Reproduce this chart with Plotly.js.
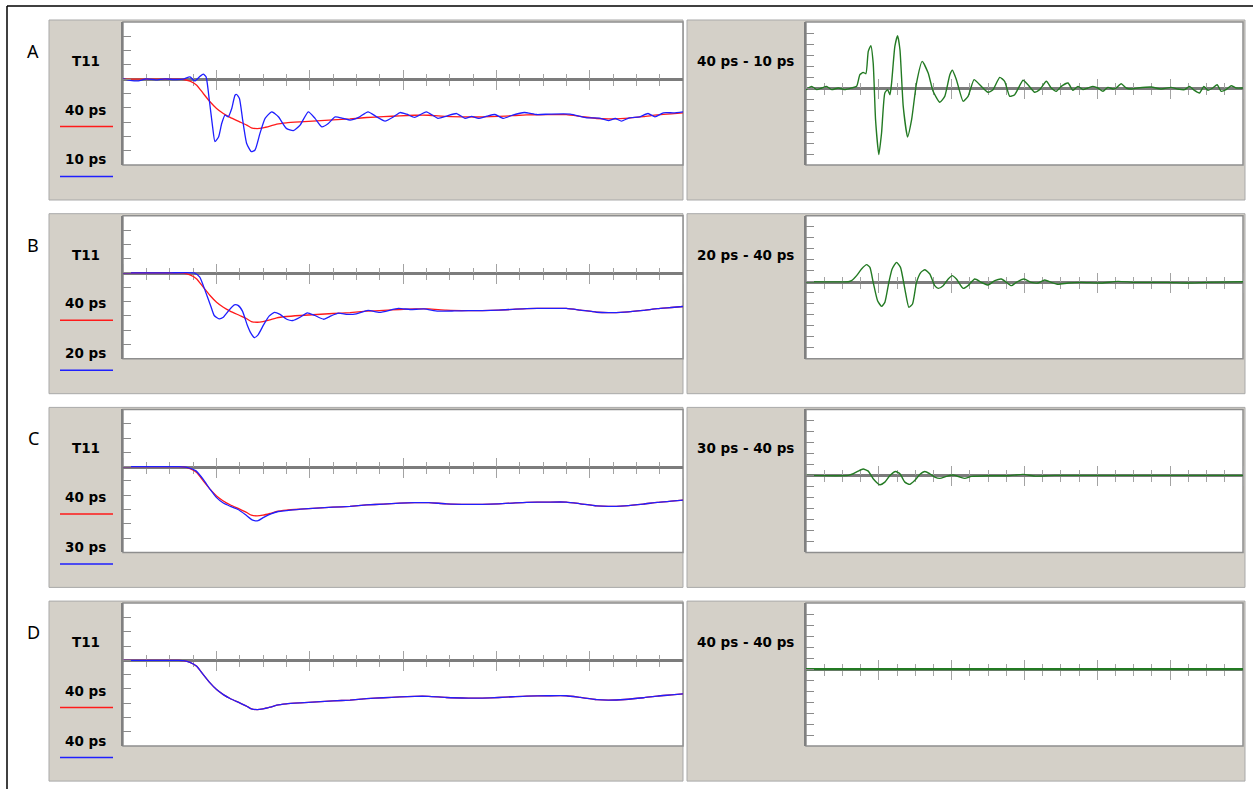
<!DOCTYPE html>
<html><head><meta charset="utf-8">
<script src="https://cdn.plot.ly/plotly-3.0.1.min.js"></script>
<style>html,body{margin:0;padding:0;background:#fff;}#chart{width:1253px;height:789px;}</style>
</head><body><div id="chart"></div>
<script>
// ---------- data (x in minor divisions 0..24, y in tick units) ----------
const rowLetters = ['A', 'B', 'C', 'D'];
const leftTitle = 'T11';
const coarseLabel = '40 ps';
const fineLabels = ['10 ps', '20 ps', '30 ps', '40 ps'];
const diffLabels = ['40 ps - 10 ps', '20 ps - 40 ps', '30 ps - 40 ps', '40 ps - 40 ps'];

// 40 ps rise time response (red)
const t40 = [0, 1, 2, 2.4, 2.6, 2.87, 3.16, 3.44, 3.73, 4.01, 4.3, 4.59, 5.0, 5.3, 5.5, 5.75, 6.0, 6.3, 6.59, 7.0, 7.6, 8.3, 9.0, 9.73, 10.44, 11.16, 11.87, 12.5, 13.1, 13.85, 14.8, 15.4, 16.1, 16.7, 17.3, 18.2, 19.0, 19.6, 20.3, 20.8, 21.5, 22.3, 22.9, 23.5, 24];
const y40 = [0, 0, 0, 0, -0.02, -0.14, -0.42, -1.0, -1.58, -2.05, -2.4, -2.67, -2.98, -3.21, -3.4, -3.45, -3.4, -3.28, -3.14, -3.05, -2.98, -2.91, -2.84, -2.78, -2.68, -2.62, -2.56, -2.52, -2.52, -2.6, -2.64, -2.64, -2.6, -2.55, -2.5, -2.48, -2.48, -2.6, -2.75, -2.78, -2.74, -2.62, -2.5, -2.42, -2.35];

// 10 ps response (blue, row A)
const t10 = [0, 0.3, 0.66, 1.0, 1.4, 1.8, 2.2, 2.58, 2.87, 3.08, 3.3, 3.44, 3.56, 3.7, 3.84, 3.94, 4.1, 4.23, 4.37, 4.51, 4.66, 4.8, 4.87, 4.99, 5.13, 5.3, 5.5, 5.66, 5.87, 6.09, 6.37, 6.66, 7.0, 7.3, 7.59, 7.94, 8.23, 8.52, 8.8, 9.09, 9.44, 9.73, 10.1, 10.5, 10.87, 11.23, 11.6, 11.87, 12.16, 12.5, 13.0, 13.5, 13.87, 14.3, 14.66, 14.94, 15.23, 15.6, 15.94, 16.3, 16.7, 17.2, 17.73, 18.3, 19.16, 19.88, 20.4, 20.8, 21.1, 21.36, 21.7, 22.15, 22.5, 22.8, 23.16, 23.6, 24];
const y10 = [0.02, -0.08, -0.12, 0.02, -0.05, 0.02, -0.02, 0, 0.16, -0.12, 0.2, 0.35, 0.16, -1.47, -3.33, -4.37, -4.02, -3.1, -2.51, -2.63, -2.05, -1.12, -1.07, -1.35, -2.86, -4.49, -5.07, -4.95, -3.79, -2.74, -2.28, -2.63, -3.44, -3.6, -3.21, -2.28, -2.74, -3.33, -3.1, -2.63, -2.74, -2.86, -2.67, -2.28, -2.63, -2.93, -2.63, -2.33, -2.45, -2.67, -2.28, -2.74, -2.58, -2.4, -2.74, -2.6, -2.74, -2.58, -2.47, -2.74, -2.51, -2.33, -2.47, -2.44, -2.44, -2.7, -2.72, -2.89, -2.75, -2.93, -2.7, -2.63, -2.4, -2.63, -2.35, -2.35, -2.28];

// 20 ps response (blue, row B)
const t20 = [0, 1, 2, 3.05, 3.29, 3.52, 3.76, 3.91, 4.12, 4.3, 4.54, 4.77, 4.93, 5.12, 5.32, 5.48, 5.63, 5.79, 6.03, 6.26, 6.49, 6.73, 7.04, 7.28, 7.59, 7.9, 8.22, 8.6, 8.92, 9.23, 9.62, 10.0, 10.5, 11.0, 11.8, 12.3, 12.9, 13.5, 14.2, 14.8, 15.4, 16.1, 16.7, 17.3, 18.2, 19.0, 19.6, 20.3, 20.8, 21.5, 22.3, 22.9, 23.5, 24];
const y20 = [0, 0, 0, 0, -0.29, -1.24, -2.31, -2.98, -3.21, -3.1, -2.62, -2.24, -2.27, -2.67, -3.62, -4.21, -4.52, -4.33, -3.62, -3.02, -2.76, -2.9, -3.26, -3.33, -3.1, -2.79, -2.98, -3.24, -3.0, -2.81, -2.9, -2.86, -2.62, -2.76, -2.48, -2.56, -2.52, -2.67, -2.66, -2.64, -2.64, -2.6, -2.55, -2.5, -2.48, -2.48, -2.6, -2.75, -2.78, -2.74, -2.62, -2.5, -2.42, -2.35];

// 30 ps response (blue, row C)
const t30 = [0, 1, 1.96, 2.4, 2.74, 3.13, 3.44, 3.76, 4.0, 4.3, 4.6, 4.93, 5.24, 5.56, 5.79, 6.03, 6.34, 6.65, 7.0, 7.6, 8.3, 9.0, 9.73, 10.44, 11.16, 11.87, 12.5, 13.1, 13.85, 14.8, 15.4, 16.1, 16.7, 17.3, 18.2, 19.0, 19.6, 20.3, 20.8, 21.5, 22.3, 22.9, 23.5, 24];
const y30 = [0, 0, 0, 0, -0.05, -0.3, -0.9, -1.65, -2.15, -2.55, -2.78, -3.0, -3.35, -3.75, -3.78, -3.55, -3.3, -3.14, -3.08, -2.98, -2.91, -2.84, -2.78, -2.68, -2.62, -2.56, -2.52, -2.52, -2.6, -2.64, -2.64, -2.6, -2.55, -2.5, -2.48, -2.48, -2.6, -2.75, -2.78, -2.74, -2.62, -2.5, -2.42, -2.35];

// difference traces (green, right column)
const td10 = [0, 0.31, 0.585, 0.86, 1.13, 1.41, 1.77, 2.14, 2.5, 2.78, 2.96, 3.14, 3.29, 3.42, 3.56, 3.69, 3.82, 4.0, 4.15, 4.33, 4.48, 4.61, 4.70, 4.88, 5.03, 5.16, 5.34, 5.58, 5.80, 6.07, 6.38, 6.71, 6.98, 7.35, 7.62, 7.90, 8.04, 8.26, 8.63, 8.90, 9.23, 9.54, 10.0, 10.27, 10.64, 10.91, 11.19, 11.46, 11.92, 12.19, 12.56, 12.83, 13.2, 13.47, 13.75, 14.02, 14.39, 14.66, 14.94, 15.21, 15.48, 15.76, 16.03, 16.31, 16.58, 16.86, 17.04, 17.31, 17.59, 17.86, 18.23, 18.96, 19.51, 20.05, 20.42, 20.79, 21.06, 21.33, 21.61, 21.85, 22.07, 22.34, 22.58, 22.8, 23.07, 23.35, 23.62, 24];
const yd10 = [-0.15, 0.15, -0.15, 0, 0.15, -0.15, 0, -0.15, 0, 0.15, 1.21, 1.42, 1.3, 3.33, 3.85, 2.27, -2.88, -6.06, -4.09, -0.45, -0.15, -0.61, 0.45, 3.79, 4.76, 3.48, -1.67, -4.45, -2.88, 0.45, 2.42, 1.36, -0.3, -1.3, -0.76, 1.21, 1.61, 0.76, -1.21, -0.76, 0.76, 0.3, -0.39, -0.15, 0.97, 0.61, -0.76, -0.61, 0.7, 0.3, -0.39, -0.15, 0.61, 0, -0.3, 0.15, 0.45, -0.21, 0.15, -0.15, 0, 0.15, 0, -0.3, 0.06, -0.09, 0, 0.39, 0, -0.09, 0, 0.09, -0.09, 0.06, -0.09, -0.15, 0.15, -0.21, -0.45, 0.15, -0.21, 0, 0.3, -0.3, -0.15, 0.21, 0, 0];
const td20 = [0, 2.32, 2.5, 2.78, 3.05, 3.33, 3.51, 3.69, 3.93, 4.15, 4.33, 4.55, 4.73, 4.97, 5.19, 5.43, 5.65, 5.85, 6.07, 6.31, 6.53, 6.8, 7.07, 7.26, 7.53, 7.81, 8.03, 8.26, 8.63, 8.9, 9.27, 9.63, 10.0, 10.37, 10.73, 11.01, 11.28, 11.55, 11.97, 12.38, 12.74, 13.11, 13.47, 13.84, 14.39, 15.12, 16.22, 17.13, 18.04, 19.87, 20.97, 21.97, 24];
const yd20 = [0, 0, 0.09, 0.55, 1.15, 1.55, 1.3, -0.06, -1.73, -2.24, -1.88, -0.06, 1.15, 1.76, 1.3, -0.67, -2.33, -2.03, -0.06, 0.85, 1.09, 0.7, -0.36, -0.61, -0.36, 0.24, 0.55, 0.24, -0.61, -0.36, 0.24, -0.06, -0.3, 0.09, 0.24, -0.06, -0.36, -0.06, 0.24, -0.06, -0.12, 0.15, -0.06, -0.24, -0.12, -0.06, -0.12, 0.03, -0.06, -0.06, -0.12, -0.06, 0];
const td30 = [0, 2.32, 2.6, 2.87, 3.14, 3.42, 3.69, 4.06, 4.33, 4.61, 4.92, 5.16, 5.43, 5.7, 5.98, 6.25, 6.53, 6.8, 7.07, 7.35, 7.71, 8.08, 8.45, 8.72, 9.09, 10.0, 11.1, 11.92, 12.56, 13.66, 24];
const yd30 = [0, 0, 0.15, 0.39, 0.58, 0.39, -0.3, -0.85, -0.61, 0, 0.36, 0.15, -0.61, -0.82, -0.45, 0.09, 0.36, 0.15, -0.15, -0.27, -0.09, 0.03, -0.15, -0.27, -0.09, -0.03, -0.03, 0.09, -0.06, 0, 0];
const td40 = [0, 24];
const yd40 = [0, 0];

// ---------- layout geometry ----------
const W = 1253, H = 789;
const fx = p => p / W, fy = p => 1 - p / H;
const ROW = 193.7;
const LEFT = {box: [49, 683], plot: [123, 683], range: [-6, 4]};
const RIGHT = {box: [687, 1245], plot: [806, 1243], range: [-7, 6]};
const BOX_T = 20, BOX_B = 200, PLOT_T = 22, PLOT_B = 165;

const fineSeries = [[t10, y10], [t20, y20], [t30, y30], [t40, y40]];
const diffSeries = [[td10, yd10], [td20, yd20], [td30, yd30], [td40, yd40]];

const traces = [], shapes = [], annotations = [];
const layout = {
  width: W, height: H, margin: {l: 0, r: 0, t: 0, b: 0},
  paper_bgcolor: '#ffffff', plot_bgcolor: 'rgba(0,0,0,0)',
  showlegend: false, hovermode: false
};

const tickCol = '#a3a3a3';
function axName(n, letter) { return n === 1 ? letter : letter + n; }
function axKey(n, letter) { return (letter === 'x' ? 'xaxis' : 'yaxis') + (n === 1 ? '' : n); }

function addPanel(k, r, side, lines) {
  const xi = 2 * k + 1, xo = 2 * k + 2, yi = k + 1;
  const top = PLOT_T + r * ROW, bot = PLOT_B + r * ROW;
  const yr = side.range;
  const zeroPx = top + (bot - top) * yr[1] / (yr[1] - yr[0]);
  shapes.push({type: 'rect', xref: 'paper', yref: 'paper', layer: 'below',
    x0: fx(side.box[0]), x1: fx(side.box[1]), y0: fy(BOX_B + r * ROW), y1: fy(BOX_T + r * ROW),
    fillcolor: '#d4d0c8', line: {color: '#a9a9a9', width: 1}});
  shapes.push({type: 'rect', xref: 'paper', yref: 'paper', layer: 'below',
    x0: fx(side.plot[0]), x1: fx(side.plot[1]), y0: fy(bot), y1: fy(top),
    fillcolor: '#ffffff', line: {color: '#8e8e8e', width: 1.5}});
  const common = {range: [0, 24], anchor: 'free', position: fy(zeroPx),
    ticks: 'outside', tick0: 0, dtick: 4, ticklen: 9, tickwidth: 1, tickcolor: tickCol,
    minor: {ticks: 'outside', dtick: 1, tick0: 0, ticklen: 5, tickwidth: 1, tickcolor: tickCol, showgrid: false},
    showticklabels: false, showgrid: false, zeroline: false, fixedrange: true, layer: 'below traces'};
  layout[axKey(xi, 'x')] = Object.assign({}, common, {domain: [fx(side.plot[0]), fx(side.plot[1])],
    showline: true, linecolor: '#7c7c7c', linewidth: 3});
  layout[axKey(xo, 'x')] = Object.assign({}, common, {overlaying: axName(xi, 'x'), side: 'top', showline: false,
    minor: {ticks: 'outside', dtick: 1, tick0: 0, ticklen: 5, tickwidth: 1, tickcolor: tickCol, showgrid: false}});
  layout[axKey(yi, 'y')] = {domain: [fy(bot), fy(top)], range: yr, anchor: axName(xi, 'x'), side: 'left',
    showline: true, linecolor: '#808080', linewidth: 2, ticks: 'inside', tick0: 0, dtick: 1, ticklen: 8,
    tickwidth: 1, tickcolor: '#8a8a8a', showticklabels: false, showgrid: false, zeroline: false, fixedrange: true};
  lines.forEach(l => traces.push({type: 'scatter', mode: 'lines', x: l.x, y: l.y,
    xaxis: axName(xi, 'x'), yaxis: axName(yi, 'y'), hoverinfo: 'skip',
    line: {color: l.color, width: l.width, shape: 'spline', smoothing: 0.5}}));
  traces.push({type: 'scatter', mode: 'lines', x: [], y: [], xaxis: axName(xo, 'x'), yaxis: axName(yi, 'y'), hoverinfo: 'skip'});
}

for (let r = 0; r < 4; r++) {
  addPanel(r, r, LEFT, [
    {x: t40, y: y40, color: '#ff1a1a', width: 1.3},
    {x: fineSeries[r][0], y: fineSeries[r][1], color: '#1f1fff', width: 1.3}
  ]);
  addPanel(4 + r, r, RIGHT, [
    {x: diffSeries[r][0], y: diffSeries[r][1], color: '#237a23', width: r === 3 ? 2.2 : 1.4}
  ]);
  const dy = r * ROW;
  const lblFont = {family: 'DejaVu Sans, Verdana, sans-serif', size: 13.5, color: '#000000'};
  annotations.push({xref: 'paper', yref: 'paper', x: fx(33), y: fy(51 + dy), text: rowLetters[r], showarrow: false,
    xanchor: 'center', yanchor: 'middle', font: {family: 'Noto Sans, Open Sans, sans-serif', size: 18, color: '#000'}});
  annotations.push({xref: 'paper', yref: 'paper', x: fx(85.5), y: fy(61 + dy), text: '<b>' + leftTitle + '</b>', showarrow: false,
    xanchor: 'center', yanchor: 'middle', font: lblFont});
  annotations.push({xref: 'paper', yref: 'paper', x: fx(85.5), y: fy(109.5 + dy), text: '<b>' + coarseLabel + '</b>', showarrow: false,
    xanchor: 'center', yanchor: 'middle', font: lblFont});
  annotations.push({xref: 'paper', yref: 'paper', x: fx(85.5), y: fy(159.5 + dy), text: '<b>' + fineLabels[r] + '</b>', showarrow: false,
    xanchor: 'center', yanchor: 'middle', font: lblFont});
  annotations.push({xref: 'paper', yref: 'paper', x: fx(745.5), y: fy(61 + dy), text: '<b>' + diffLabels[r] + '</b>', showarrow: false,
    xanchor: 'center', yanchor: 'middle', font: lblFont});
  shapes.push({type: 'line', xref: 'paper', yref: 'paper', x0: fx(60), x1: fx(113), y0: fy(126.5 + dy), y1: fy(126.5 + dy),
    line: {color: '#ff1a1a', width: 1.5}});
  shapes.push({type: 'line', xref: 'paper', yref: 'paper', x0: fx(60), x1: fx(113), y0: fy(176.5 + dy), y1: fy(176.5 + dy),
    line: {color: '#1f1fff', width: 1.5}});
}
shapes.push({type: 'line', xref: 'paper', yref: 'paper', x0: fx(7), x1: fx(1253), y0: fy(6), y1: fy(6), line: {color: '#000', width: 1.5}});
shapes.push({type: 'line', xref: 'paper', yref: 'paper', x0: fx(7), x1: fx(7), y0: fy(6), y1: fy(789), line: {color: '#000', width: 1.5}});

layout.shapes = shapes;
layout.annotations = annotations;
Plotly.newPlot('chart', traces, layout, {staticPlot: true, displayModeBar: false});
</script>
</body></html>
